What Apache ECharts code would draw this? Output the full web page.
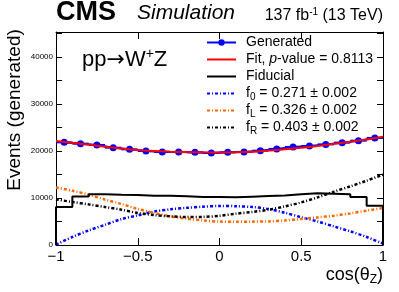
<!DOCTYPE html>
<html><head><meta charset="utf-8">
<script src="https://cdn.jsdelivr.net/npm/echarts@6/dist/echarts.min.js"></script>
<style>html,body{margin:0;padding:0;background:#fff}#c{width:399px;height:292px}</style>
</head><body><div id="c"></div>
<script>
// ---- data ----
const binEdges = [-1,-0.9,-0.8,-0.7,-0.6,-0.5,-0.4,-0.3,-0.2,-0.1,0,0.1,0.2,0.3,0.4,0.5,0.6,0.7,0.8,0.9,1];
const binCenters = [-0.95,-0.85,-0.75,-0.65,-0.55,-0.45,-0.35,-0.25,-0.15,-0.05,0.05,0.15,0.25,0.35,0.45,0.55,0.65,0.75,0.85,0.95];
const generated = [21830,21550,21280,20700,20340,20000,19790,19790,19700,19570,19700,19790,20060,20430,20850,21060,21400,21770,22190,22770];
const curveX = [-1,-0.9,-0.8,-0.7,-0.6,-0.5,-0.4,-0.3,-0.2,-0.1,0,0.1,0.2,0.3,0.4,0.5,0.6,0.7,0.8,0.9,1];
const fitY = [22130,21740,21350,20900,20500,20180,19980,19850,19760,19700,19680,19710,19830,20080,20340,20660,21050,21510,21950,22450,23040];
const fiducial = [8080,10340,10770,10700,10640,10500,10500,10360,10210,10210,10130,10280,10420,10550,10770,10980,10900,10770,10210,8360];
const f0 = [100,1700,3100,4300,5500,6300,7100,7600,7900,8150,8300,8250,8080,7650,6850,5900,5000,3950,2900,1700,300];
const fL = [12250,11550,10700,9640,8720,7660,6810,6090,5600,5230,4980,4960,4970,5020,5230,5530,5870,6230,6720,7300,7870];
const fR = [9700,9150,8640,8080,7510,6810,6380,6090,5960,5980,6200,6660,7020,7510,8210,9060,10130,11340,12470,13680,14960];
const xTickLabels = {'-1':'\u22121','-0.5':'\u22120.5','0':'0','0.5':'0.5','1':'1'};
const yLabelStep = 10000;
const legendLabels = {
  Generated: 'Generated',
  Fit: '{t|Fit, }{i|p}{t|-value = 0.8113}',
  Fiducial: 'Fiducial',
  f0: '{t|f}{s|0}{t| = 0.271 \u00b1 0.002}',
  fL: '{t|f}{s|L}{t| = 0.326 \u00b1 0.002}',
  fR: '{t|f}{s|R}{t| = 0.403 \u00b1 0.002}'
};
// ---- chart ----
const FF = 'Liberation Sans';
const BLUE = '#0000ff', RED = '#ff0000', ORANGE = '#ff6a00', BLACK = '#000000';
const DASHDOT = [3,2,1,2];
const chart = echarts.init(document.getElementById('c'), null, {renderer:'canvas'});
const pairs = (xs, ys) => xs.map((x,i)=>[x, ys[i]]);
const fidData = [[binEdges[0],0]].concat(fiducial.map((v,i)=>[binEdges[i],v])).concat([[binEdges[binEdges.length-1], fiducial[fiducial.length-1]],[binEdges[binEdges.length-1],0]]);
const axisCommon = {axisLine:{show:true,onZero:false,lineStyle:{color:BLACK,width:1}}, splitLine:{show:false}};
const hideSym = {opacity:0};
chart.setOption({
  animation:false,
  textStyle:{fontFamily:FF},
  grid:{left:56,right:16,top:32,bottom:47},
  xAxis:[
    Object.assign({type:'value',min:-1,max:1,interval:0.5,position:'bottom',
      axisTick:{inside:true,length:7,lineStyle:{color:BLACK}},
      axisLabel:{fontSize:15,color:BLACK,margin:4,fontFamily:FF,formatter:v=>xTickLabels[String(v)]??''}},axisCommon),
    Object.assign({type:'value',min:-1,max:1,interval:0.5,position:'top',
      axisTick:{inside:true,length:7,lineStyle:{color:BLACK}},axisLabel:{show:false}},axisCommon)
  ],
  yAxis:[
    Object.assign({type:'value',min:0,max:45300,interval:5000,position:'left',
      axisTick:{inside:true,length:6,lineStyle:{color:BLACK}},
      axisLabel:{fontSize:8,color:BLACK,margin:3,fontFamily:FF,formatter:v=>(v%yLabelStep===0?String(v):'')}},axisCommon),
    Object.assign({type:'value',min:0,max:45300,interval:5000,position:'right',
      axisTick:{inside:true,length:6,lineStyle:{color:BLACK}},axisLabel:{show:false}},axisCommon)
  ],
  legend:{
    orient:'vertical',left:206,top:34,padding:0,itemGap:0,itemWidth:29,itemHeight:8,
    selectedMode:false,
    data:[{name:'Generated'},{name:'Fit',itemStyle:hideSym},{name:'Fiducial',itemStyle:hideSym},
          {name:'f0',itemStyle:hideSym},{name:'fL',itemStyle:hideSym},{name:'fR',itemStyle:hideSym}],
    formatter:n=>legendLabels[n],
    textStyle:{fontSize:14,lineHeight:17,color:BLACK,fontFamily:FF,padding:[0,0,0,5],
      rich:{t:{fontSize:14,lineHeight:17,fontFamily:FF,color:BLACK},
            i:{fontSize:14,lineHeight:17,fontStyle:'italic',fontFamily:FF,color:BLACK},
            s:{fontSize:10,lineHeight:10,verticalAlign:'bottom',fontFamily:FF,color:BLACK}}}
  },
  series:[
    {name:'f0',type:'line',data:pairs(curveX,f0),smooth:0.3,symbol:'none',lineStyle:{color:BLUE,width:2.5,type:DASHDOT},itemStyle:{color:BLUE},z:2},
    {name:'fL',type:'line',data:pairs(curveX,fL),smooth:0.3,symbol:'none',lineStyle:{color:ORANGE,width:2.5,type:DASHDOT},itemStyle:{color:ORANGE},z:2},
    {name:'fR',type:'line',data:pairs(curveX,fR),smooth:0.3,symbol:'none',lineStyle:{color:BLACK,width:2.5,type:DASHDOT},itemStyle:{color:BLACK},z:2},
    {name:'Fiducial',type:'line',data:fidData,step:'end',symbol:'none',lineStyle:{color:BLACK,width:2},itemStyle:{color:BLACK},z:3},
    {name:'GenBars',type:'custom',z:4,data:generated.map((v,i)=>[binEdges[i],binEdges[i+1],v]),
      renderItem:(p,api)=>{const a=api.coord([api.value(0),api.value(2)]);const b=api.coord([api.value(1),api.value(2)]);
        return {type:'line',shape:{x1:a[0],y1:a[1],x2:b[0],y2:b[1]},style:{stroke:BLUE,lineWidth:2}};}},
    {name:'Generated',type:'line',data:pairs(binCenters,generated),symbol:'circle',symbolSize:7,showSymbol:true,
      lineStyle:{color:BLUE,width:2},itemStyle:{color:BLUE},z:5},
    {name:'Fit',type:'line',data:pairs(curveX,fitY),smooth:0.4,symbol:'none',lineStyle:{color:RED,width:2},itemStyle:{color:RED},z:6}
  ],
  graphic:[
    {type:'text',x:56,y:12.5,style:{text:'CMS',font:'bold 27px "Liberation Sans"',fill:BLACK,textAlign:'left',textVerticalAlign:'middle'}},
    {type:'text',x:137,y:13.5,style:{text:'Simulation',font:'italic 21px "Liberation Sans"',fill:BLACK,textAlign:'left',textVerticalAlign:'middle'}},
    {type:'text',x:383,y:16,style:{text:'{a|137 fb}{s|-1}{a| (13 TeV)}',textAlign:'right',textVerticalAlign:'middle',
      rich:{a:{fontSize:16,lineHeight:18,fontFamily:FF,color:BLACK},s:{fontSize:10,lineHeight:10,verticalAlign:'top',fontFamily:FF,color:BLACK}}}},
    {type:'text',x:82,y:60,style:{text:'{a|pp}{r|\u2192}{a|W}{s|+}{a|Z}',textAlign:'left',textVerticalAlign:'middle',
      rich:{a:{fontSize:22,lineHeight:26,fontFamily:FF,color:BLACK},r:{fontSize:22,lineHeight:26,fontFamily:'DejaVu Sans',color:BLACK},
            s:{fontSize:14,lineHeight:14,verticalAlign:'top',fontFamily:FF,color:BLACK}}}},
    {type:'text',x:383,y:275,style:{text:'{a|cos(\u03b8}{s|Z}{a|)}',textAlign:'right',textVerticalAlign:'middle',
      rich:{a:{fontSize:18,lineHeight:22,fontFamily:FF,color:BLACK},s:{fontSize:12,lineHeight:12,verticalAlign:'bottom',fontFamily:FF,color:BLACK}}}},
    {type:'text',x:15,y:110,rotation:Math.PI/2,style:{text:'Events (generated)',font:'19px "Liberation Sans"',fill:BLACK,textAlign:'center',textVerticalAlign:'middle'}}
  ]
});
</script></body></html>
